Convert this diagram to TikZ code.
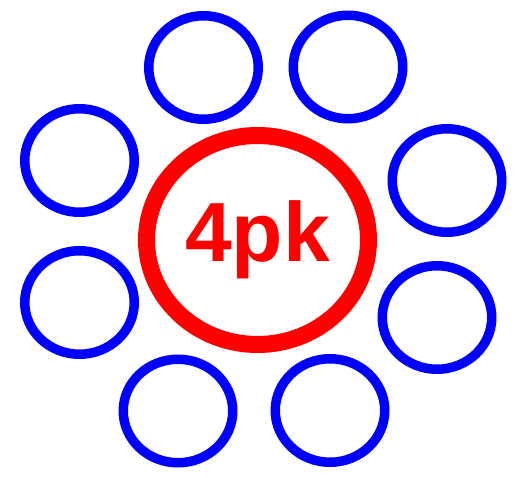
\documentclass[tikz,border=0pt]{standalone}
\usepackage{fontspec}
\setmainfont{Liberation Sans}
\usetikzlibrary{shapes.geometric}
\begin{document}
\begin{tikzpicture}[x=1pt,y=-1pt, every node/.style={ellipse, inner sep=0pt},
    petal/.style={draw=blue, line width=9.5pt, minimum width=109.5pt, minimum height=103.5pt},
    core/.style={draw=red, line width=17pt, minimum width=222pt, minimum height=209pt, text=red, font=\bfseries\fontsize{84}{84}\selectfont}]
            \useasboundingbox (0,0) rectangle (520,478);
            \node [core] (Core) at (257.5,240) {4pk};
            \node [petal] (TopLeft) at (203.5,67.5) {};
            \node [petal] (TopRight) at (348,67) {};
            \node [petal] (LeftUpper) at (79.5,160.5) {};
            \node [petal] (RightUpper) at (447,180.5) {};
            \node [petal] (LeftLower) at (79.5,302.5) {};
            \node [petal] (RightLower) at (437,317.5) {};
            \node [petal] (BottomLeft) at (178,411) {};
            \node [petal] (BottomRight) at (330,410.5) {};
        \end{tikzpicture}
\end{document}
